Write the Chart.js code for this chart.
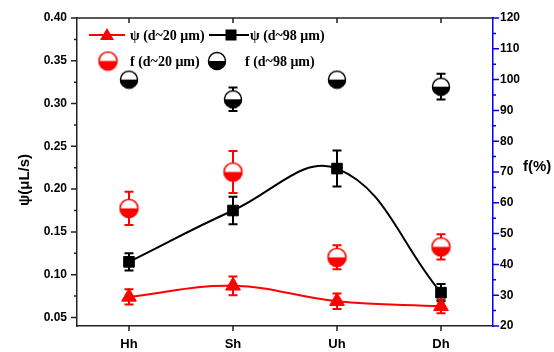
<!DOCTYPE html>
<html>
<head>
<meta charset="utf-8">
<script src="https://cdn.jsdelivr.net/npm/chart.js@4.4.1/dist/chart.umd.min.js"></script>
<style>
  html, body { margin: 0; padding: 0; background: #fff; }
  #wrap { width: 554px; height: 352px; }
</style>
</head>
<body>
<div id="wrap"><canvas id="chart"></canvas></div>
<script>
// categories on the x axis
const categories = ["Hh", "Sh", "Uh", "Dh"];

// psi (left axis, uL/s)
const psi20 = [0.074, 0.087, 0.069, 0.063];
const psi20Err = [0.009, 0.011, 0.009, 0.008];
const psi98 = [0.115, 0.175, 0.224, 0.079];
const psi98Err = [0.010, 0.016, 0.021, 0.010];

// f (right axis, %)
const f20 = [58.2, 70.0, 42.3, 45.7];
const f20Err = [5.4, 6.8, 3.9, 4.1];
const f98 = [100, 93.6, 100, 97.7];
const f98Err = [0, 3.8, 0, 4.2];

// tick labels
const psiTicks = [0.05, 0.10, 0.15, 0.20, 0.25, 0.30, 0.35, 0.40];
const fTicks = [20, 30, 40, 50, 60, 70, 80, 90, 100, 110, 120];

const RED = "#ff0000";
const BLACK = "#000000";
const BLUE = "#0000ff";

// half filled circle marker (top white, bottom coloured)
function halfCircle(color, r) {
    const c = document.createElement("canvas");
    const s = Math.ceil(r * 2 + 2);
    c.width = s;
    c.height = s;
    const g = c.getContext("2d");
    const cx = s / 2, cy = s / 2;
    g.fillStyle = "#fff";
    g.beginPath();
    g.arc(cx, cy, r, 0, Math.PI * 2);
    g.fill();
    g.fillStyle = color;
    g.beginPath();
    g.arc(cx, cy, r, 0, Math.PI);
    g.closePath();
    g.fill();
    g.strokeStyle = color;
    g.lineWidth = 1.5;
    g.beginPath();
    g.arc(cx, cy, r - 0.5, 0, Math.PI * 2);
    g.stroke();
    return c;
}

const redHalf = halfCircle(RED, 9.5);
const blackHalf = halfCircle(BLACK, 9);

// error bars, drawn under the markers
const errorBars = {
    id: "errorBars",
    beforeDatasetsDraw(chart) {
        const ctx = chart.ctx;
        const sets = [
            { ds: 0, err: psi20Err, color: RED },
            { ds: 1, err: psi98Err, color: BLACK },
            { ds: 2, err: f20Err, color: RED },
            { ds: 3, err: f98Err, color: BLACK }
        ];
        ctx.save();
        ctx.lineWidth = 2;
        sets.forEach(s => {
            const meta = chart.getDatasetMeta(s.ds);
            const yScale = chart.scales[meta.yAxisID];
            const values = chart.data.datasets[s.ds].data;
            ctx.strokeStyle = s.color;
            meta.data.forEach((pt, i) => {
                const e = s.err[i];
                if (!e) return;
                const x = pt.x;
                const yTop = yScale.getPixelForValue(values[i] + e);
                const yBot = yScale.getPixelForValue(values[i] - e);
                ctx.beginPath();
                ctx.moveTo(x, yTop);
                ctx.lineTo(x, yBot);
                ctx.moveTo(x - 4.5, yTop);
                ctx.lineTo(x + 4.5, yTop);
                ctx.moveTo(x - 4.5, yBot);
                ctx.lineTo(x + 4.5, yBot);
                ctx.stroke();
            });
        });
        ctx.restore();
    }
};

// tick marks, top frame line, axis titles and legend
const decorations = {
    id: "decorations",
    afterDraw(chart) {
        const ctx = chart.ctx;
        const area = chart.chartArea;
        const y = chart.scales.y;
        const y2 = chart.scales.y2;
        const x = chart.scales.x;
        ctx.save();
        ctx.lineWidth = 1.5;

        // top frame
        ctx.strokeStyle = "#222";
        ctx.beginPath();
        ctx.moveTo(area.left, area.top);
        ctx.lineTo(area.right, area.top);
        ctx.stroke();

        // left ticks
        ctx.beginPath();
        psiTicks.forEach((v, i) => {
            const p = y.getPixelForValue(v);
            ctx.moveTo(area.left, p);
            ctx.lineTo(area.left - 6, p);
            if (i < psiTicks.length - 1) {
                const m = y.getPixelForValue(v + 0.025);
                ctx.moveTo(area.left, m);
                ctx.lineTo(area.left - 3, m);
            }
        });
        // bottom and top ticks
        categories.forEach((c, i) => {
            const p = x.getPixelForValue(i);
            ctx.moveTo(p, area.bottom);
            ctx.lineTo(p, area.bottom + 5);
            ctx.moveTo(p, area.top);
            ctx.lineTo(p, area.top + 5);
        });
        ctx.stroke();

        // right ticks (blue)
        ctx.strokeStyle = BLUE;
        ctx.beginPath();
        fTicks.forEach((v, i) => {
            const p = y2.getPixelForValue(v);
            ctx.moveTo(area.right, p);
            ctx.lineTo(area.right + 6, p);
            if (i < fTicks.length - 1) {
                const m = y2.getPixelForValue(v + 5);
                ctx.moveTo(area.right, m);
                ctx.lineTo(area.right + 3, m);
            }
        });
        ctx.stroke();

        // axis titles
        ctx.fillStyle = "#000";
        ctx.font = "bold 15px 'Liberation Sans', Arial, sans-serif";
        ctx.textAlign = "center";
        ctx.textBaseline = "middle";
        ctx.save();
        ctx.translate(25, 180);
        ctx.rotate(-Math.PI / 2);
        ctx.fillText("ψ(μL/s)", 0, 0);
        ctx.restore();
        ctx.textAlign = "left";
        ctx.fillText("f(%)", 523, 167);

        // legend
        const row1 = 35, row2 = 61;
        ctx.lineWidth = 2;
        ctx.strokeStyle = RED;
        ctx.beginPath();
        ctx.moveTo(89, row1);
        ctx.lineTo(125, row1);
        ctx.stroke();
        ctx.fillStyle = RED;
        ctx.beginPath();
        ctx.moveTo(107, row1 - 7);
        ctx.lineTo(114, row1 + 5);
        ctx.lineTo(100, row1 + 5);
        ctx.closePath();
        ctx.fill();

        ctx.strokeStyle = BLACK;
        ctx.beginPath();
        ctx.moveTo(209, row1);
        ctx.lineTo(249, row1);
        ctx.stroke();
        ctx.fillStyle = BLACK;
        ctx.fillRect(225.5, row1 - 5.5, 11, 11);

        ctx.drawImage(redHalf, 108 - redHalf.width / 2, row2 - redHalf.height / 2);
        ctx.drawImage(blackHalf, 217 - blackHalf.width / 2, row2 - blackHalf.height / 2);

        ctx.fillStyle = "#000";
        ctx.font = "bold 14px 'Liberation Serif', 'Times New Roman', serif";
        ctx.textBaseline = "middle";
        ctx.fillText("ψ (d~20 μm)", 130, row1 + 1);
        ctx.fillText("ψ (d~98 μm)", 250, row1 + 1);
        ctx.fillText("f (d~20 μm)", 130, row2 + 1);
        ctx.fillText("f (d~98 μm)", 245, row2 + 1);
        ctx.restore();
    }
};

const tickFont = { family: "'Liberation Sans', Arial, sans-serif", size: 12, weight: "bold" };

new Chart(document.getElementById("chart"), {
    type: "line",
    data: {
        labels: categories,
        datasets: [
            {
                label: "ψ (d~20 μm)",
                data: psi20,
                yAxisID: "y",
                borderColor: RED,
                backgroundColor: RED,
                borderWidth: 2,
                tension: 0.4,
                pointStyle: "triangle",
                pointRadius: 8.5,
                pointBorderWidth: 1
            },
            {
                label: "ψ (d~98 μm)",
                data: psi98,
                yAxisID: "y",
                borderColor: BLACK,
                backgroundColor: BLACK,
                borderWidth: 2,
                tension: 0.4,
                pointStyle: "rect",
                pointRadius: 7.5,
                pointBorderWidth: 1
            },
            {
                label: "f (d~20 μm)",
                data: f20,
                yAxisID: "y2",
                showLine: false,
                pointStyle: redHalf,
                borderColor: RED,
                backgroundColor: RED
            },
            {
                label: "f (d~98 μm)",
                data: f98,
                yAxisID: "y2",
                showLine: false,
                pointStyle: blackHalf,
                borderColor: BLACK,
                backgroundColor: BLACK
            }
        ]
    },
    options: {
        responsive: true,
        maintainAspectRatio: false,
        animation: false,
        layout: { padding: { top: 18, left: 0, right: 0, bottom: 0 } },
        plugins: {
            legend: { display: false },
            tooltip: { enabled: false }
        },
        scales: {
            x: {
                type: "category",
                offset: true,
                grid: { display: true, drawOnChartArea: false, drawTicks: false },
                border: { display: true, color: "#222", width: 1.5 },
                ticks: { color: "#000", font: { family: tickFont.family, size: 13, weight: "bold" }, padding: 11 },
                afterFit(scale) { scale.height = 26; }
            },
            y: {
                position: "left",
                min: 0.04,
                max: 0.40,
                grid: { display: true, drawOnChartArea: false, drawTicks: false },
                border: { display: true, color: "#222", width: 1.5 },
                afterBuildTicks(scale) { scale.ticks = psiTicks.map(v => ({ value: v })); },
                ticks: {
                    color: "#000",
                    font: tickFont,
                    padding: 10,
                    callback: v => Number(v).toFixed(2)
                },
                afterFit(scale) { scale.width = 77; }
            },
            y2: {
                position: "right",
                min: 20,
                max: 120,
                grid: { display: true, drawOnChartArea: false, drawTicks: false },
                border: { display: true, color: BLUE, width: 1.5 },
                afterBuildTicks(scale) { scale.ticks = fTicks.map(v => ({ value: v })); },
                ticks: {
                    color: "#000",
                    font: tickFont,
                    padding: 7,
                    callback: v => String(v)
                },
                afterFit(scale) { scale.width = 61; }
            }
        }
    },
    plugins: [errorBars, decorations]
});
</script>
</body>
</html>
